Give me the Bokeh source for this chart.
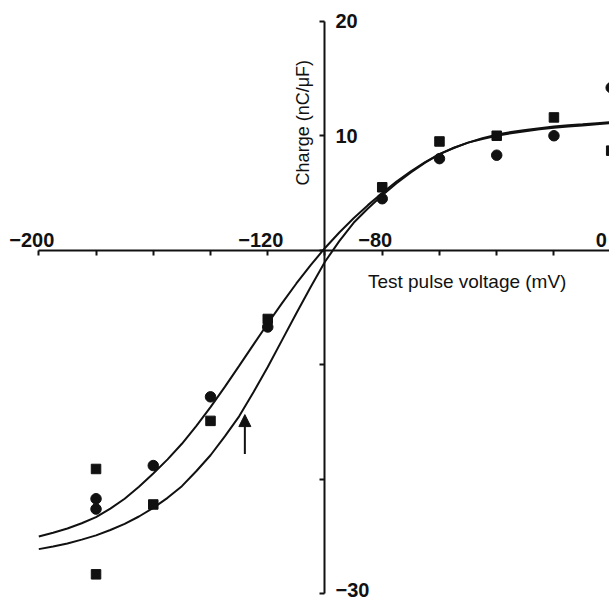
from math import pi
from bokeh.plotting import figure
from bokeh.models import LinearAxis, FixedTicker, Range1d, Label, Arrow, NormalHead
from bokeh.core.properties import value
from bokeh.embed import file_html
from bokeh.resources import INLINE

# --- data ---
circle_v = [-180, -180, -160, -140, -120, -80, -60, -40, -20, 0]
circle_q = [-21.7, -22.6, -18.8, -12.8, -6.7, 4.5, 8.0, 8.3, 10.0, 14.2]
square_v = [-180, -180, -160, -140, -120, -80, -60, -40, -20, 0]
square_q = [-19.1, -28.3, -22.2, -14.9, -6.0, 5.5, 9.5, 10.0, 11.6, 8.7]

curve_v = [-200, -195, -190, -185, -180, -175, -170, -165, -160, -155, -150,
           -145, -140, -135, -130, -125, -120, -115, -110, -105, -100,
           -95, -90, -85, -80, -75, -70, -65, -60, -55, -50,
           -45, -40, -35, -30, -25, -20, -15, -10, -5, 0]
curve_a_q = [-25.0, -24.67, -24.3, -23.84, -23.3, -22.56, -21.7, -20.66, -19.5, -18.26, -16.9,
             -15.35, -13.7, -11.93, -10.1, -8.24, -6.4, -4.62, -2.9, -1.3, 0.2,
             1.55, 2.8, 3.94, 5.0, 6.0, 6.9, 7.7, 8.4, 8.95, 9.4,
             9.78, 10.1, 10.32, 10.5, 10.66, 10.8, 10.91, 11.0, 11.1, 11.2]
curve_b_q = [-26.1, -25.87, -25.6, -25.27, -24.9, -24.43, -23.9, -23.25, -22.5, -21.62, -20.6,
             -19.3, -17.9, -16.25, -14.5, -12.4, -10.2, -7.85, -5.5, -3.2, -1.0,
             0.8, 2.4, 3.65, 4.8, 5.85, 6.8, 7.65, 8.4, 8.93, 9.4,
             9.72, 10.0, 10.22, 10.4, 10.56, 10.7, 10.8, 10.9, 11.0, 11.1]

x_ticks = [-200, -180, -160, -140, -120, -100, -80, -60, -40, -20, 0]
x_label_v = [-200, -120, -80, 0]
x_label_text = ["\u2212200", "\u2212120", "\u221280", "0"]
y_ticks = [-30, -20, -10, 0, 10, 20]
y_label_q = [20, 10, -30]
y_label_text = ["20", "10", "\u221230"]

arrow_v = -128
arrow_q = [-17.8, -14.35]

FONT = "Liberation Sans"
INK = "#111111"

p = figure(width=609, height=602,
           x_range=Range1d(-213.38, -0.59), y_range=Range1d(-30.76, 21.81),
           output_backend="svg", toolbar_location=None,
           x_axis_type=None, y_axis_type=None, min_border=0)
p.outline_line_color = None
p.background_fill_color = "white"
p.border_fill_color = "white"

xa = LinearAxis(fixed_location=0, ticker=FixedTicker(ticks=x_ticks), bounds=(-200, 0),
                major_label_overrides={t: "" for t in x_ticks})
ya = LinearAxis(fixed_location=-100, ticker=FixedTicker(ticks=y_ticks), bounds=(-30, 20),
                major_label_overrides={t: "" for t in y_ticks})
for ax in (xa, ya):
    ax.axis_line_width = 2
    ax.axis_line_color = INK
    ax.major_tick_line_width = 2
    ax.major_tick_line_color = INK
    ax.major_tick_in = 5
    ax.major_tick_out = 0
    ax.minor_tick_line_color = None
    ax.major_label_text_font_size = "1px"
p.add_layout(xa, "above")
p.add_layout(ya, "right")

# tick labels (minus sign hangs left of the centred digits, as in the reference;
# the "0" at the right edge is pulled inside the page so it stays readable)
x_off = [-7 if t.startswith("\u2212") else -10 for t in x_label_text]
p.text(x=x_label_v, y=[0] * len(x_label_v), text=x_label_text,
       x_offset=x_off, y_offset=-10,
       text_align="center", text_baseline="alphabetic",
       text_font=value(FONT), text_font_size="20px", text_font_style="bold", text_color=INK)
p.text(x=[-100] * len(y_label_q), y=y_label_q, text=y_label_text,
       x_offset=10.5, y_offset=[-4 if q == min(y_label_q) else 0 for q in y_label_q],
       text_align="left", text_baseline="middle",
       text_font=value(FONT), text_font_size="20px", text_font_style="bold", text_color=INK)

p.line(curve_v, curve_a_q, line_width=2, line_color=INK)
p.line(curve_v, curve_b_q, line_width=2, line_color=INK)
p.scatter(circle_v, circle_q, marker="circle", size=10.5, fill_color=INK, line_color=INK)
p.scatter(square_v, square_q, marker="square", size=9.5, fill_color=INK, line_color=INK)

p.add_layout(Arrow(end=NormalHead(size=12, fill_color=INK, line_color=INK),
                   x_start=arrow_v, y_start=arrow_q[0], x_end=arrow_v, y_end=arrow_q[1],
                   line_width=2, line_color=INK))

p.add_layout(Label(x=-85.0, y=-2.74, text="Test pulse voltage (mV)", text_font=FONT,
                   text_font_size="19px", text_color=INK, text_align="left",
                   text_baseline="alphabetic"))
p.add_layout(Label(x=-107.6, y=11.14, text="Charge (nC/\u03bcF)", text_font=FONT,
                   text_font_size="18px", text_color=INK, text_align="center",
                   text_baseline="alphabetic", angle=pi / 2))

open("out.html", "w").write(file_html(p, INLINE))
